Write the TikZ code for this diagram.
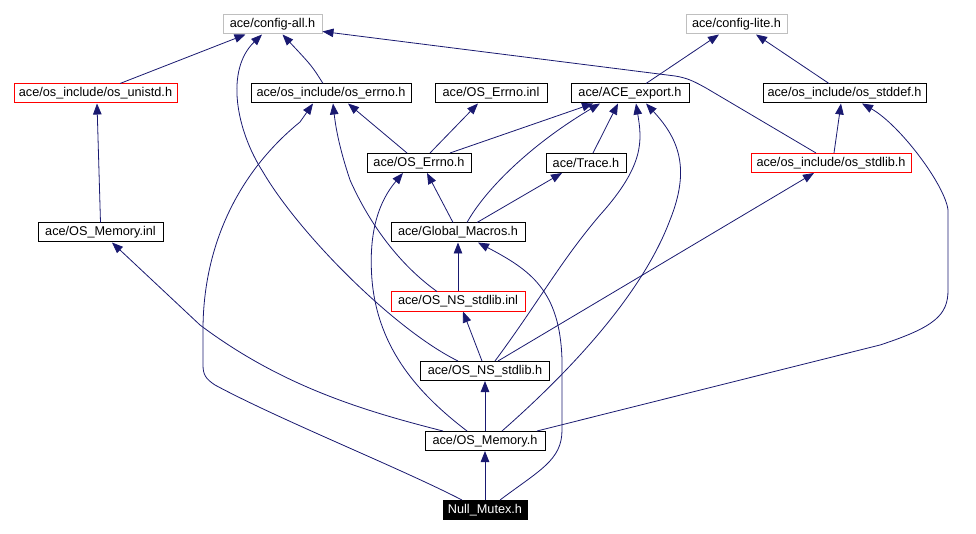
\documentclass[tikz,border=0pt]{standalone}
\usepackage{fontspec}
\setmainfont{Liberation Sans}
\usetikzlibrary{arrows.meta}

\definecolor{edgeblue}{HTML}{191970}
\definecolor{boxgray}{HTML}{BFBFBF}

\tikzset{
    hdr/.style={draw=black, line width=1pt, fill=white, inner xsep=2pt, inner ysep=0pt,
        minimum height=19pt, font=\fontsize{12.7}{14}\selectfont},
    hdrred/.style={hdr, draw=red},
    hdrgray/.style={hdr, draw=boxgray},
    dep/.style={draw=edgeblue, line width=0.8pt, -{Triangle[length=11pt,width=8.5pt]}},
}

\begin{document}
\begin{tikzpicture}[x=1pt, y=-1pt]
    \useasboundingbox (0,0) rectangle (976,534);

    % Top row
    \node[hdrgray, minimum width=99pt] (cfgall) at (272.5,24.5) {ace/config-all.h};
    \node[hdrgray, minimum width=101pt] (cfglite) at (736.5,24.5) {ace/config-lite.h};

    % Second row
    \node[hdrred, minimum width=163pt] (unistd) at (95.5,93.5) {ace/os\_include/os\_unistd.h};
    \node[hdr, minimum width=160pt] (errno) at (331,93.5) {ace/os\_include/os\_errno.h};
    \node[hdr, minimum width=112pt] (errnoinl) at (491,93.5) {ace/OS\_Errno.inl};
    \node[hdr, minimum width=118pt] (export) at (630,93.5) {ace/ACE\_export.h};
    \node[hdr, minimum width=163pt] (stddef) at (844.5,93.5) {ace/os\_include/os\_stddef.h};

    % Third row
    \node[hdr, minimum width=104pt] (errnoh) at (419,163) {ace/OS\_Errno.h};
    \node[hdr, minimum width=80pt] (trace) at (586,163) {ace/Trace.h};
    \node[hdrred, minimum width=160pt] (stdlib) at (831,163) {ace/os\_include/os\_stdlib.h};

    % Middle
    \node[hdr, minimum width=125pt] (meminl) at (100.5,232.5) {ace/OS\_Memory.inl};
    \node[hdr, minimum width=134pt] (macros) at (458,232.5) {ace/Global\_Macros.h};
    \node[hdrred, minimum width=134pt] (nsinl) at (458,301.5) {ace/OS\_NS\_stdlib.inl};
    \node[hdr, minimum width=129pt] (nsh) at (485,371) {ace/OS\_NS\_stdlib.h};
    \node[hdr, minimum width=120pt] (memh) at (485,441) {ace/OS\_Memory.h};

    % Root
    \node[hdr, fill=black, text=white, minimum width=84pt] (mutex) at (485,510) {Null\_Mutex.h};

    % Into config-all.h
    \draw[dep] ([xshift=24.5pt]unistd.north) -- ([xshift=-27pt]cfgall.south);
    \draw[dep] ([xshift=-8pt]errno.north) .. controls (312,66) .. ([xshift=10pt]cfgall.south);
    \draw[dep] ([xshift=-27pt]nsh.north) .. controls (395,330) and (300,235) .. (263,172)
        .. controls (236,130) and (225,70) .. ([xshift=-10.5pt]cfgall.south);
    \draw[dep] ([xshift=-15pt]stdlib.north) -- (706,88) .. controls (695,82) and (688,78) .. (675,76)
        -- ([yshift=-7pt]cfgall.east);

    % Into config-lite.h
    \draw[dep] ([xshift=16pt]export.north) -- ([xshift=-17.5pt]cfglite.south);
    \draw[dep] ([xshift=-15.5pt]stddef.north) -- ([xshift=19.5pt]cfglite.south);

    % Into os_unistd.h
    \draw[dep] (meminl.north) -- ([xshift=1.5pt]unistd.south);

    % Into os_errno.h
    \draw[dep] ([xshift=-12pt]errnoh.north) -- ([xshift=17pt]errno.south);
    \draw[dep] ([xshift=-21pt]nsinl.north) .. controls (400,265) and (370,225) .. (350,180)
        .. controls (340,150) and (336,130) .. ([xshift=2pt]errno.south);
    \draw[dep] ([xshift=-23pt]mutex.north) .. controls (400,468) and (280,420) .. (215,385)
        .. controls (206,379) and (203,375) .. (203,365) -- (203,330)
        .. controls (203,250) and (235,175) .. (300,122) -- ([xshift=-18pt]errno.south);

    % Into OS_Errno.inl and ACE_export.h
    \draw[dep] ([xshift=11pt]errnoh.north) -- ([xshift=-13pt]errnoinl.south);
    \draw[dep] ([xshift=31pt]errnoh.north) -- ([xshift=-37pt]export.south);
    \draw[dep] ([xshift=9pt]macros.north) .. controls (485,190) and (530,145) .. ([xshift=-30pt]export.south);
    \draw[dep] ([xshift=7pt]trace.north) -- ([xshift=-12pt]export.south);
    \draw[dep] ([xshift=10pt]nsh.north) .. controls (540,300) and (560,262) .. (600,215)
        .. controls (645,165) and (642,140) .. ([xshift=6pt]export.south);
    \draw[dep] ([xshift=17pt]memh.north) .. controls (560,380) and (640,300) .. (670,220)
        .. controls (690,170) and (680,140) .. ([xshift=16pt]export.south);

    % Into os_stddef.h
    \draw[dep] ([xshift=3pt]stdlib.north) -- ([xshift=-3.5pt]stddef.south);
    \draw[dep] ([xshift=52pt]memh.north) -- (880,345) .. controls (935,327) and (948,315) .. (948,290)
        -- (948,210) .. controls (945,185) and (900,125) .. ([xshift=17.5pt]stddef.south);

    % Into OS_Errno.h and Trace.h
    \draw[dep] ([xshift=-5pt]macros.north) -- ([xshift=8pt]errnoh.south);
    \draw[dep] ([xshift=-18pt]memh.north) .. controls (420,395) and (378,350) .. (372,280)
        .. controls (368,230) and (380,200) .. ([xshift=-16pt]errnoh.south);
    \draw[dep] ([xshift=19pt]macros.north) -- ([xshift=-24pt]trace.south);

    % Into os_stdlib.h and OS_Memory.inl
    \draw[dep] ([xshift=13pt]nsh.north) -- ([xshift=-17pt]stdlib.south);
    \draw[dep] ([xshift=-42pt]memh.north) .. controls (360,410) and (280,385) .. (200,325)
        -- ([xshift=11.5pt]meminl.south);

    % Down the middle
    \draw[dep] (nsinl.north) -- (macros.south);
    \draw[dep] ([xshift=15pt]mutex.north) .. controls (540,470) and (562,460) .. (562,430) -- (562,360)
        .. controls (560,290) and (530,270) .. ([xshift=20pt]macros.south);
    \draw[dep] ([xshift=-3pt]nsh.north) -- ([xshift=5pt]nsinl.south);
    \draw[dep] (memh.north) -- (nsh.south);
    \draw[dep] (mutex.north) -- (memh.south);
\end{tikzpicture}
\end{document}
